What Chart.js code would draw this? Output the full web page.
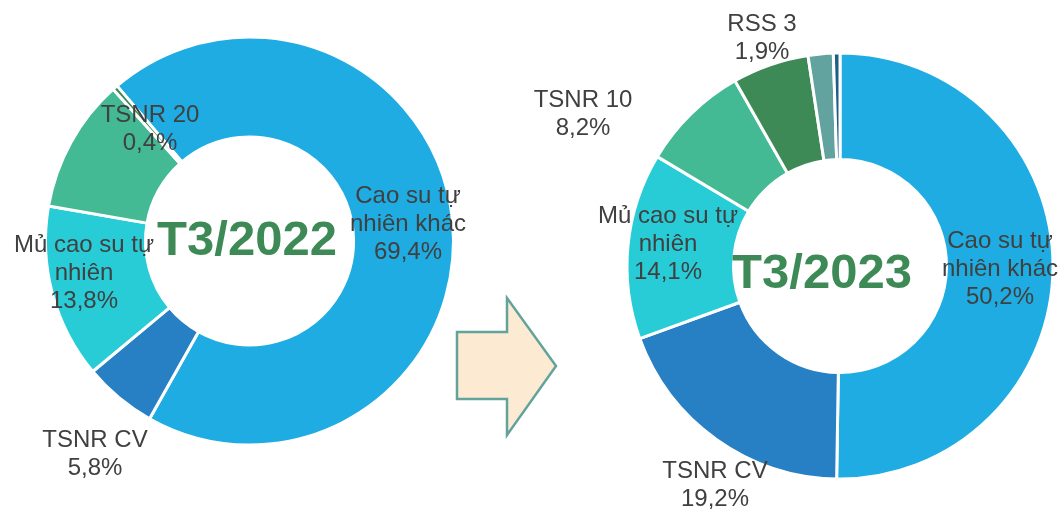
<!DOCTYPE html>
<html>
<head>
<meta charset="utf-8">
<script src="https://cdn.jsdelivr.net/npm/chart.js@4.4.0/dist/chart.umd.min.js"></script>
<style>
  body { margin: 0; background: #fff; }
  #wrap { position: relative; width: 1061px; height: 509px; overflow: hidden; }
  #c2022 { position: absolute; left: 0; top: 0; }
  #c2023 { position: absolute; left: 530px; top: 0; }
  #arrow { position: absolute; left: 0; top: 0; }
</style>
</head>
<body>
<div id="wrap">
  <canvas id="c2022" width="530" height="509"></canvas>
  <canvas id="c2023" width="531" height="509"></canvas>
  <svg id="arrow" width="1061" height="509">
    <polygon points="457,332 507,332 507,298 556,366 507,435 507,399 457,399"
             fill="#FCEAD3" stroke="#62A39C" stroke-width="2.5" stroke-linejoin="miter"/>
  </svg>
</div>
<script>
// data
const labels2022 = ["Cao su tự nhiên khác", "TSNR CV", "Mủ cao su tự nhiên", "TSNR 10", "TSNR 20"];
const values2022 = [69.4, 5.8, 13.8, 10.6, 0.4];
const colors2022 = ["#1EACE2", "#2780C4", "#28CCD6", "#43B994", "#3E8A56"];

const labels2023 = ["Cao su tự nhiên khác", "TSNR CV", "Mủ cao su tự nhiên", "TSNR 10", "TSNR 20", "RSS 3", "Khác"];
const values2023 = [50.2, 19.2, 14.1, 8.2, 5.8, 1.9, 0.5];
const colors2023 = ["#1EACE2", "#2780C4", "#28CCD6", "#43B994", "#3E8A56", "#62A39F", "#1B5E86"];

// text lines shown on the chart (null = no label)
const text2022 = [["Cao su tự", "nhiên khác"], ["TSNR CV"], ["Mủ cao su tự", "nhiên"], null, ["TSNR 20"]];
const text2023 = [["Cao su tự", "nhiên khác"], ["TSNR CV"], ["Mủ cao su tự", "nhiên"], ["TSNR 10"], null, ["RSS 3"], null];

// label anchor offsets from the doughnut centre (x centre, first baseline)
const pos2022 = [[158.5, -38], [-154.5, 206], [-165.5, 11], null, [-99.5, -119]];
const pos2023 = [[160, -18], [-125, 212], [-172, -43], [-257, -159], null, [-78, -235], null];

function fmt(v) {
    return v.toFixed(1).replace(".", ",") + "%";
}

const labelPlugin = {
    id: "sliceLabels",
    afterDraw(chart, args, opts) {
        const ctx = chart.ctx;
        const arc = chart.getDatasetMeta(0).data[0];
        const cx = arc.x, cy = arc.y;
        const vals = chart.data.datasets[0].data;
        ctx.save();
        ctx.fillStyle = "#404040";
        ctx.font = "24px 'Liberation Sans', Arial, sans-serif";
        ctx.textAlign = "center";
        ctx.textBaseline = "alphabetic";
        opts.text.forEach((lines, i) => {
            if (!lines) return;
            const p = opts.pos[i];
            const all = lines.concat([fmt(vals[i])]);
            all.forEach((t, k) => {
                ctx.fillText(t, cx + p[0], cy + p[1] + k * 28);
            });
        });
        // centre title
        ctx.fillStyle = "#3E8A56";
        ctx.font = "bold 49px 'Liberation Sans', Arial, sans-serif";
        ctx.textBaseline = "middle";
        ctx.fillText(opts.title, cx + opts.titleOff[0], cy + opts.titleOff[1]);
        ctx.restore();
    }
};

function makeChart(id, labels, values, colors, rotation, cutout, padding, text, pos, title, titleOff) {
    return new Chart(document.getElementById(id), {
        type: "doughnut",
        data: {
            labels: labels,
            datasets: [{
                data: values,
                backgroundColor: colors,
                borderColor: "#ffffff",
                borderWidth: 3,
            }],
        },
        options: {
            responsive: false,
            animation: false,
            rotation: rotation,
            cutout: cutout,
            layout: { padding: padding },
            plugins: {
                legend: { display: false },
                tooltip: { enabled: false },
                sliceLabels: { text: text, pos: pos, title: title, titleOff: titleOff },
            },
        },
        plugins: [labelPlugin],
    });
}

makeChart("c2022", labels2022, values2022, colors2022, -40.5, "51%",
    { left: 44, right: 75, top: 35.5, bottom: 62.5 },
    text2022, pos2022, "T3/2022", [-2.5, 0]);

makeChart("c2023", labels2023, values2023, colors2023, 0, "50%",
    { left: 95.5, right: 6.5, top: 51.5, bottom: 28.5 },
    text2023, pos2023, "T3/2023", [-18, 8]);
</script>
</body>
</html>
